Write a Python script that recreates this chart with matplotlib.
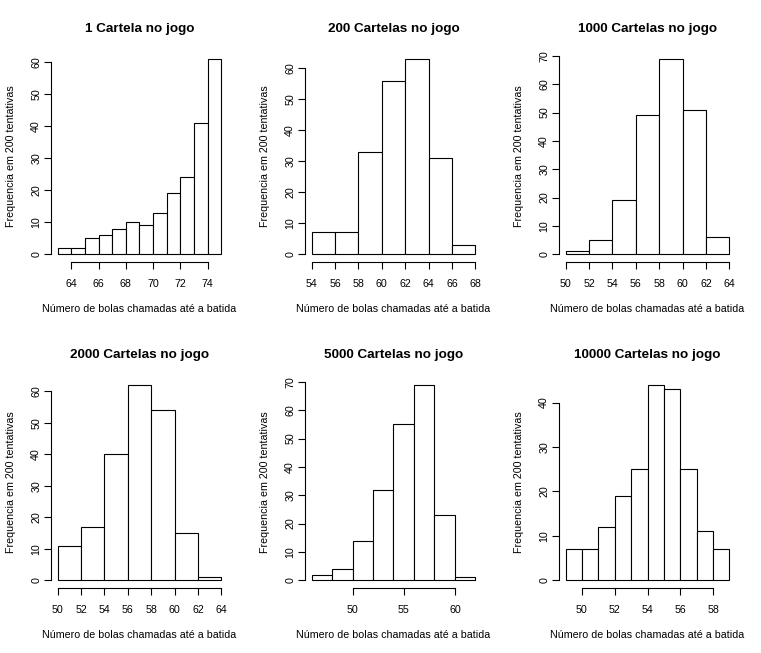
import matplotlib
matplotlib.use('Agg')
import matplotlib.pyplot as plt

plt.rcParams['font.family'] = ['Liberation Sans', 'DejaVu Sans']

titles = ["1 Cartela no jogo", "200 Cartelas no jogo", "1000 Cartelas no jogo",
          "2000 Cartelas no jogo", "5000 Cartelas no jogo", "10000 Cartelas no jogo"]

# primeiro limite de classe, largura da classe e frequencias
starts = [63, 54, 50, 50, 46, 49]
widths = [1, 2, 2, 2, 2, 1]
counts = [
    [2, 2, 5, 6, 8, 10, 9, 13, 19, 24, 41, 61],
    [7, 7, 33, 56, 63, 31, 3],
    [1, 5, 19, 49, 69, 51, 6],
    [11, 17, 40, 62, 54, 15, 1],
    [2, 4, 14, 32, 55, 69, 23, 1],
    [7, 7, 12, 19, 25, 44, 43, 25, 11, 7],
]
xticks = [
    [64, 66, 68, 70, 72, 74],
    [54, 56, 58, 60, 62, 64, 66, 68],
    [50, 52, 54, 56, 58, 60, 62, 64],
    [50, 52, 54, 56, 58, 60, 62, 64],
    [50, 55, 60],
    [50, 52, 54, 56, 58],
]
yticks = [
    [0, 10, 20, 30, 40, 50, 60],
    [0, 10, 20, 30, 40, 50, 60],
    [0, 10, 20, 30, 40, 50, 60, 70],
    [0, 10, 20, 30, 40, 50, 60],
    [0, 10, 20, 30, 40, 50, 60, 70],
    [0, 10, 20, 30, 40],
]

W, H = 761, 653
fig = plt.figure(figsize=(W / 100, H / 100), dpi=100)

lefts = [51, 305, 559]
tops = [51, 377]
aw, ah = 177, 211
fs = 7.7

for i in range(6):
    l = lefts[i % 3]
    t = tops[i // 3]
    ax = fig.add_axes([l / W, 1 - (t + ah) / H, aw / W, ah / H])

    c = counts[i]
    w = widths[i]
    edges = [starts[i] + k * w for k in range(len(c) + 1)]
    ax.bar(edges[:-1], c, width=w, align='edge', facecolor='white',
           edgecolor='black', linewidth=0.8)

    x0, x1 = edges[0], edges[-1]
    pad = (x1 - x0) * 0.04
    ax.set_xlim(x0 - pad, x1 + pad)
    ym = max(c)
    ax.set_ylim(-ym * 0.04, ym * 1.04)

    for s in ['top', 'right']:
        ax.spines[s].set_visible(False)
    for s in ['left', 'bottom']:
        ax.spines[s].set_linewidth(0.8)
    ax.spines['bottom'].set_bounds(xticks[i][0], xticks[i][-1])
    ax.spines['left'].set_bounds(yticks[i][0], yticks[i][-1])

    ax.set_xticks(xticks[i])
    ax.set_yticks(yticks[i])
    ax.tick_params(axis='both', direction='out', length=5, width=0.8,
                   labelsize=fs, colors='black')
    ax.tick_params(axis='x', pad=7)
    ax.tick_params(axis='y', pad=2)
    for lab in ax.get_yticklabels():
        lab.set_rotation(90)
        lab.set_va('center')

    ax.set_title(titles[i], fontsize=9.7, fontweight='bold', pad=14)
    ax.set_xlabel("Número de bolas chamadas até a batida", fontsize=fs)
    ax.xaxis.set_label_coords(0.5, -0.2)
    ax.set_ylabel("Frequencia em 200 tentativas", fontsize=fs)
    ax.yaxis.set_label_coords(-0.2, 0.5)

fig.savefig('out.png', dpi=100, facecolor='white')
